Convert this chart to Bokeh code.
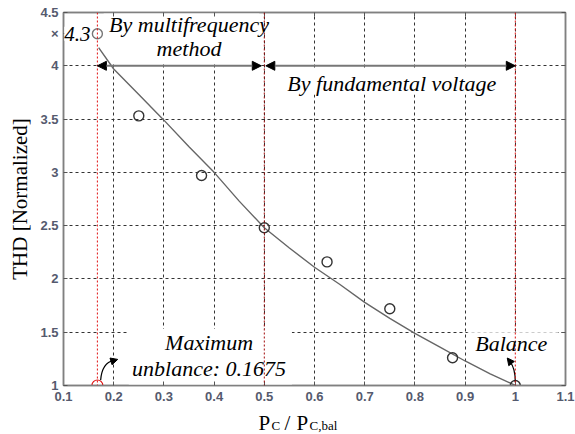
import math
from bokeh.plotting import figure
from bokeh.layouts import column
from bokeh.models import (Span, Label, Arrow, NormalHead, BoxAnnotation, LinearAxis,
                          FixedTicker, Range1d)
from bokeh.core.properties import value
from bokeh.embed import file_html
from bokeh.resources import INLINE

# ---- data ----
x_ticks = [0.1, 0.2, 0.3, 0.4, 0.5, 0.6, 0.7, 0.8, 0.9, 1.0, 1.1]
x_tick_labels = ["0.1", "0.2", "0.3", "0.4", "0.5", "0.6", "0.7", "0.8", "0.9", "1", "1.1"]
y_ticks = [1.0, 1.5, 2.0, 2.5, 3.0, 3.5, 4.0, 4.5]
y_tick_labels = ["1", "1.5", "2", "2.5", "3", "3.5", "4", "4.5"]

meas_x = [0.25, 0.375, 0.5, 0.625, 0.75, 0.875, 1.0]
meas_y = [3.53, 2.97, 2.48, 2.16, 1.72, 1.26, 1.0]

top_x = [0.1675]
top_y = [4.3]
top_marker_label = "\u00d7"
top_value_label = "4.3"

min_x = [0.1675]
min_y = [1.0]

fit_x = [0.17, 0.2, 0.25, 0.3, 0.35, 0.4, 0.45, 0.5, 0.55, 0.6, 0.65, 0.7, 0.75, 0.8, 0.85, 0.9, 0.95, 1.0]
fit_y = [4.17, 3.97, 3.73, 3.49, 3.24, 3.0, 2.73, 2.48, 2.29, 2.11, 1.95, 1.78, 1.63, 1.49, 1.36, 1.23, 1.11, 1.0]

limit_x = [0.1675, 0.5, 1.0]
limit_colors = ["#e01010", "#a00808", "#e01010"]

SERIF = "Liberation Serif"
SANS = "Liberation Sans"
TICK_COLOR = "#555a6e"
FRAME = "#808080"

p = figure(width=575, height=405, x_range=Range1d(0.1, 1.1), y_range=Range1d(1.0, 4.5),
           output_backend="svg", toolbar_location=None,
           min_border_left=63, min_border_right=10, min_border_top=12, min_border_bottom=20)
p.background_fill_color = "white"
p.border_fill_color = "white"
p.outline_line_color = FRAME
p.outline_line_width = 1.5

# axes
p.xaxis.ticker = FixedTicker(ticks=x_ticks)
p.yaxis.ticker = FixedTicker(ticks=y_ticks + top_y)
p.xaxis.major_label_overrides = dict(zip(x_ticks, x_tick_labels))
y_over = dict(zip(y_ticks, y_tick_labels))
y_over[top_y[0]] = top_marker_label
p.yaxis.major_label_overrides = y_over
for ax in (p.xaxis, p.yaxis):
    ax.major_label_text_font = SANS
    ax.major_label_text_font_style = "bold"
    ax.major_label_text_font_size = "13px"
    ax.major_label_text_color = TICK_COLOR
    ax.major_tick_in = 4
    ax.major_tick_out = 0
    ax.major_tick_line_color = "#555555"
    ax.minor_tick_line_color = None
    ax.axis_line_color = FRAME
    ax.axis_line_width = 1.5
    ax.major_label_standoff = 5
p.xaxis.major_label_standoff = 6

p.yaxis.axis_label = "THD [Normalized]"
p.yaxis.axis_label_text_font = SERIF
p.yaxis.axis_label_text_font_style = "normal"
p.yaxis.axis_label_text_font_size = "21px"
p.yaxis.axis_label_text_color = "black"
p.yaxis.axis_label_standoff = 5

# box axes on top and right: inward ticks only, empty labels
for loc, tks in (("above", x_ticks), ("right", y_ticks)):
    ax = LinearAxis(ticker=FixedTicker(ticks=tks),
                    major_label_overrides={t: "" for t in tks},
                    major_label_text_font_size="1px",
                    major_tick_in=4, major_tick_out=0, minor_tick_line_color=None,
                    major_tick_line_color="#555555", axis_line_color=FRAME, axis_line_width=1.5,
                    major_label_standoff=0)
    p.add_layout(ax, loc)

# grid
for g in (p.xgrid, p.ygrid):
    g.grid_line_color = "#333333"
    g.grid_line_dash = "3 3"
    g.grid_line_width = 1
    g.level = "image"
p.xgrid.ticker = FixedTicker(ticks=x_ticks)
p.ygrid.ticker = FixedTicker(ticks=y_ticks)

# white boxes behind texts
for l, r, b, t in [(0.18, 0.49, 4.03, 4.5), (0.53, 0.98, 3.73, 3.97),
                   (0.23, 0.555, 1.0, 1.53), (0.905, 1.085, 1.03, 1.5)]:
    p.add_layout(BoxAnnotation(left=l, right=r, bottom=b, top=t, fill_color="white",
                               fill_alpha=1.0, line_alpha=0, level="underlay"))

# fitted curve and points
p.line(fit_x, fit_y, line_color="#666666", line_width=1.4)
p.scatter(meas_x, meas_y, marker="circle", size=10, fill_color=None,
          line_color="#333333", line_width=1.4)
p.scatter(top_x, top_y, marker="circle", size=10, fill_color=None,
          line_color="#777777", line_width=1.4)
p.scatter(min_x, min_y, marker="circle", size=11, fill_color=None,
          line_color="#e01010", line_width=1.2)

# vertical limit lines
for xv, c in zip(limit_x, limit_colors):
    p.add_layout(Span(location=xv, dimension="height", line_color=c,
                      line_dash="2 2", line_width=1))

# double arrows
for xs, xe in [(0.1675, 0.494), (0.503, 1.0)]:
    p.add_layout(Arrow(x_start=xs, y_start=4.0, x_end=xe, y_end=4.0,
                       line_color="#777777", line_width=2,
                       start=NormalHead(size=9, fill_color="black", line_color="black"),
                       end=NormalHead(size=9, fill_color="black", line_color="black")))

# curved pointer arrows
p.bezier(x0=[0.174, 1.0], y0=[1.05, 1.03], x1=[0.2, 0.99], y1=[1.235, 1.22],
         cx0=[0.176, 1.0], cy0=[1.17, 1.12], cx1=[0.185, 0.997], cy1=[1.22, 1.18],
         line_color="black", line_width=1.2)
p.add_layout(Arrow(x_start=0.196, y_start=1.228, x_end=0.208, y_end=1.245, line_alpha=0,
                   end=NormalHead(size=7, fill_color="black", line_color="black")))
p.add_layout(Arrow(x_start=0.991, y_start=1.215, x_end=0.984, y_end=1.258, line_alpha=0,
                   end=NormalHead(size=7, fill_color="black", line_color="black")))

# texts
def txt(x, y, s, align="center", size="22px", style="italic", bg=None):
    lab = Label(x=x, y=y, text=s, text_font=SERIF, text_font_style=style,
                text_font_size=size, text_align=align, text_baseline="middle",
                text_color="black")
    if bg:
        lab.background_fill_color = bg
        lab.background_fill_alpha = 1.0
    p.add_layout(lab)

txt(0.1015, 4.3, top_value_label, align="left", size="21px", bg="white")
txt(0.35, 4.39, "By multifrequency")
txt(0.35, 4.16, "method")
txt(0.754, 3.83, "By fundamental voltage")
txt(0.39, 1.40, "Maximum")
txt(0.39, 1.16, "unblance: 0.1675")
txt(0.992, 1.39, "Balance")

# x-axis title strip with subscripts; its frame is aligned with the main frame
# (x measured in page pixels, y measured downward from the strip top)
p2 = figure(width=575, height=29, x_range=Range1d(63, 565), y_range=Range1d(29, 0),
            output_backend="svg", toolbar_location=None, title=None,
            x_axis_location=None, y_axis_location=None,
            min_border=0, min_border_left=0, min_border_right=0, min_border_top=0, min_border_bottom=0)
p2.grid.visible = False
p2.outline_line_color = None
p2.background_fill_color = "white"
p2.border_fill_color = "white"
parts_x = [258, 271, 284, 296, 309]
parts_y = [17, 20, 17, 17, 20]
parts_t = ["P", "C", "/", "P", "C,bal"]
parts_s = ["21px", "13px", "21px", "21px", "13px"]
for xx, yy, tt, ss in zip(parts_x, parts_y, parts_t, parts_s):
    p2.text(x=[xx], y=[yy], text=[tt], text_font=value(SERIF), text_font_size=value(ss),
            text_align="left", text_baseline="alphabetic", text_color="black")

open("out.html", "w").write(file_html(column(p, p2, spacing=0), INLINE))
